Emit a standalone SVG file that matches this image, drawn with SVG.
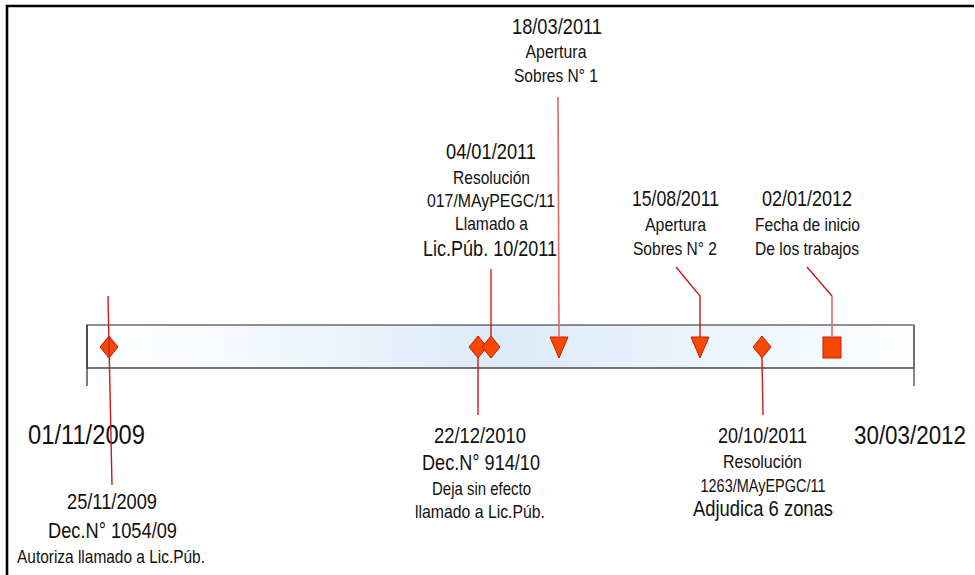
<svg xmlns="http://www.w3.org/2000/svg" width="975" height="575" viewBox="0 0 975 575">
<defs>
<linearGradient id="barGrad" x1="0" y1="0" x2="1" y2="0">
<stop offset="0" stop-color="#ffffff"/>
<stop offset="0.12" stop-color="#fafcff"/>
<stop offset="0.5" stop-color="#dcebf8"/>
<stop offset="0.9" stop-color="#f6faff"/>
<stop offset="1" stop-color="#ffffff"/>
</linearGradient>
<style>
text{font-family:"Liberation Sans",Arial,sans-serif;fill:#111;text-anchor:middle}
.big{font-size:27px}
.mid{font-size:22px}
.sm{font-size:18.5px}
.mk{fill:#f54800;stroke:#c81c00;stroke-width:1}
.con{fill:none;stroke:#cc1a1a;stroke-width:1.4}
.conl{fill:none;stroke:#dd6a6a;stroke-width:1.6}
</style>
</defs>
<rect width="975" height="575" fill="#ffffff"/>
<path d="M7,575 V6 H974" fill="none" stroke="#000" stroke-width="2.6"/>

<g id="timeline">
<rect x="87" y="325" width="827" height="43" fill="url(#barGrad)" stroke="#222" stroke-width="1"/>
<path d="M87,368 H914" stroke="#6a6a6a" stroke-width="1.6" fill="none"/>
<path d="M87,325 V386" stroke="#222" stroke-width="1.2" fill="none"/>
<path d="M914,325 V386" stroke="#6a6a6a" stroke-width="1.6" fill="none"/>
<text class="big" x="86.5" y="444" textLength="117" lengthAdjust="spacingAndGlyphs">01/11/2009</text>
<text class="big" x="910" y="444" style="font-size:25px" textLength="112" lengthAdjust="spacingAndGlyphs">30/03/2012</text>
</g>

<g id="ev-2009-11-25">
<path class="mk" d="M109,336 L118,347 L109,358 L100,347 Z"/>
<text class="mid" x="112" y="509" textLength="90" lengthAdjust="spacingAndGlyphs">25/11/2009</text>
<text class="mid" x="112.5" y="538" textLength="129" lengthAdjust="spacingAndGlyphs">Dec.N° 1054/09</text>
<text class="sm" x="111" y="563" textLength="188" lengthAdjust="spacingAndGlyphs">Autoriza llamado a Lic.Púb.</text>
</g>

<g id="ev-2010-12-22">
<path class="mk" d="M478,336 L487,347 L478,358 L469,347 Z"/>
<text class="mid" x="480" y="443" textLength="92" lengthAdjust="spacingAndGlyphs">22/12/2010</text>
<text class="mid" x="481" y="470" textLength="118" lengthAdjust="spacingAndGlyphs">Dec.N° 914/10</text>
<text class="sm" x="481.5" y="495" textLength="99" lengthAdjust="spacingAndGlyphs">Deja sin efecto</text>
<text class="sm" x="480" y="518" textLength="130" lengthAdjust="spacingAndGlyphs">llamado a Lic.Púb.</text>
</g>

<g id="ev-2011-01-04">
<path class="mk" d="M491,336 L500,347 L491,358 L482,347 Z"/>
<text class="mid" x="491" y="159" textLength="90" lengthAdjust="spacingAndGlyphs">04/01/2011</text>
<text class="sm" x="491.5" y="184" textLength="77" lengthAdjust="spacingAndGlyphs">Resolución</text>
<text class="sm" x="491" y="207" textLength="128" lengthAdjust="spacingAndGlyphs">017/MAyPEGC/11</text>
<text class="sm" x="491.5" y="230" textLength="73" lengthAdjust="spacingAndGlyphs">Llamado a</text>
<text class="mid" x="490" y="256" textLength="134" lengthAdjust="spacingAndGlyphs">Lic.Púb. 10/2011</text>
</g>

<g id="ev-2011-03-18">
<path class="mk" d="M550,337 L568,337 L559,358 Z"/>
<text class="mid" x="557" y="34" textLength="90" lengthAdjust="spacingAndGlyphs">18/03/2011</text>
<text class="sm" x="556" y="58" textLength="61" lengthAdjust="spacingAndGlyphs">Apertura</text>
<text class="sm" x="556" y="82" textLength="84" lengthAdjust="spacingAndGlyphs">Sobres N° 1</text>
</g>

<g id="ev-2011-08-15">
<path class="mk" d="M691,337 L709,337 L700,358 Z"/>
<text class="mid" x="675.5" y="206" textLength="87" lengthAdjust="spacingAndGlyphs">15/08/2011</text>
<text class="sm" x="675.5" y="231" textLength="61" lengthAdjust="spacingAndGlyphs">Apertura</text>
<text class="sm" x="675" y="255" textLength="84" lengthAdjust="spacingAndGlyphs">Sobres N° 2</text>
</g>

<g id="ev-2011-10-20">
<path class="mk" d="M762,336 L771,347 L762,358 L753,347 Z"/>
<text class="mid" x="762.5" y="443" textLength="89" lengthAdjust="spacingAndGlyphs">20/10/2011</text>
<text class="sm" x="762.5" y="468" textLength="79" lengthAdjust="spacingAndGlyphs">Resolución</text>
<text class="sm" x="763" y="492" textLength="125" lengthAdjust="spacingAndGlyphs">1263/MAyEPGC/11</text>
<text class="mid" x="763" y="516" textLength="140" lengthAdjust="spacingAndGlyphs">Adjudica 6 zonas</text>
</g>

<g id="ev-2012-01-02">
<rect class="mk" x="823" y="337" width="18" height="21"/>
<text class="mid" x="807" y="206" textLength="90" lengthAdjust="spacingAndGlyphs">02/01/2012</text>
<text class="sm" x="807.5" y="231" textLength="105" lengthAdjust="spacingAndGlyphs">Fecha de inicio</text>
<text class="sm" x="807" y="255" textLength="104" lengthAdjust="spacingAndGlyphs">De los trabajos</text>
</g>

<g id="connectors">
<path class="con" d="M108,296 L112,485"/>
<path class="con" d="M491,269 V337"/>
<path class="con" d="M478,358 V415"/>
<path class="conl" d="M558,97 L559,337"/>
<path class="con" d="M676,267 L700,296 V337"/>
<path class="con" d="M762,358 L763,415"/>
<path class="con" d="M807,267 L832,296"/>
<path class="conl" d="M832,296 V337"/>
</g>
</svg>
